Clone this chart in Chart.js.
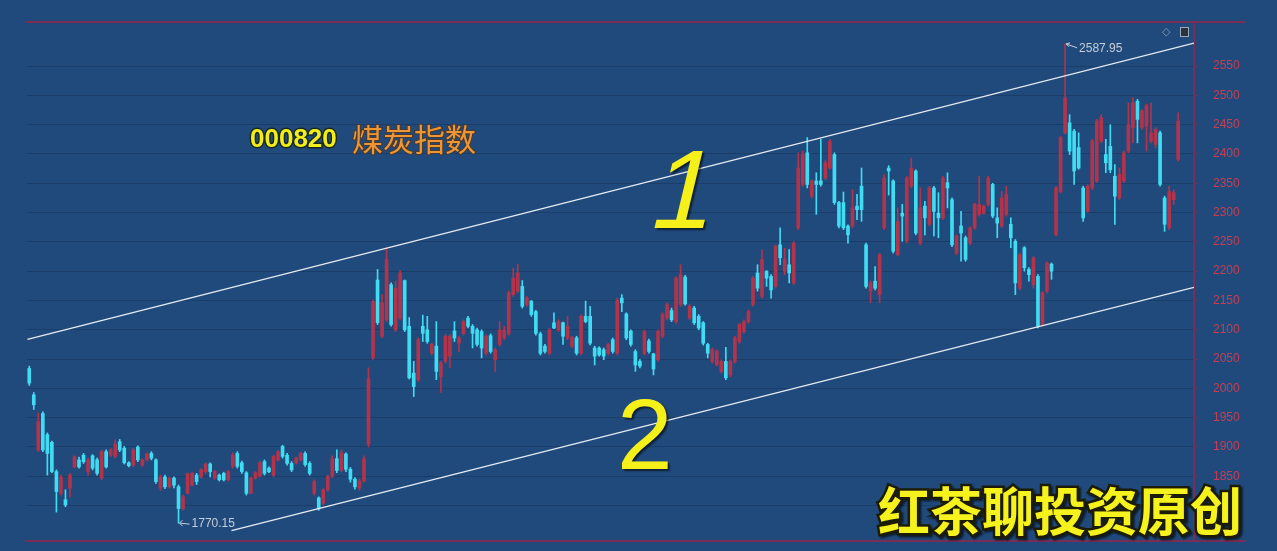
<!DOCTYPE html>
<html>
<head>
<meta charset="utf-8">
<script src="https://cdn.jsdelivr.net/npm/chart.js@4/dist/chart.umd.min.js"></script>
<style>
    html, body { margin: 0; padding: 0; background: #214a7c; }
    #wrap { width: 1277px; height: 551px; }
</style>
</head>
<body>
<div id="wrap"><canvas id="kline" width="1277" height="551"></canvas></div>
<script>
    // 000820 煤炭指数 - daily candles
    var openPrices = [
        2034,1989,1895,1957,1921,1908,1858,1821,1810,1830,
        1866,1878,1886,1858,1885,1878,1847,1892,1886,1884,
        1909,1898,1873,1869,1900,1869,1878,1889,1878,1830,
        1849,1832,1847,1832,1795,1821,1835,1852,1849,1858,
        1871,1847,1852,1855,1844,1867,1889,1873,1856,1821,
        1847,1850,1875,1864,1852,1878,1901,1886,1872,1873,
        1878,1889,1872,1821,1813,1804,
        1827,1850,1880,1860,1888,1862,1845,1830,1842,
        1905,2052,2185,2089,2117,
        2177,2100,2120,2184,2106,2026,2015,2106,2100,2060,
        2072,2020,2046,2055,2098,2077,2094,2120,2106,2100,
        2097,2060,2090,2049,2075,2086,2094,2160,2166,2174,
        2143,2149,2131,2093,2072,2060,2112,2100,2112,2086,
        2072,2086,2060,2123,2123,2069,2069,2066,
        2060,2083,2060,2154,2127,2098,2063,2046,2060,2081,
        2059,2049,2089,2120,2133,2114,2143,2190,2120,2137,
        2123,2112,2075,2046,2040,2029,2046,2023,2046,2080,
        2097,2114,2143,2197,2157,2200,2191,2174,2245,2200,
        2211,2180,2274,2348,2402,2328,2354,2354,2359,2376,
        2399,2317,2317,2277,2277,2311,2345,2245,2166,2183,
        2160,2274,2376,2354,
        2228,2299,2251,2345,2371,2248,2311,2280,2342,2299,
        2291,2351,2322,2231,2277,2257,2248,2274,2297,2299,
        2314,2348,2291,2277,2297,2280,2251,2171,2240,2203,
        2177,2191,2109,2166,2212,2262,2336,2436,2453,2439,
        2411,2342,2302,2342,2354,2422,2399,2413,2362,2325,
        2354,2405,2445,2490,2445,2448,2422,2416,2436,2325,
        2274,2322,2391
    ];
    var highPrices = [
        2038,1993,1958,1960,1924,1910,1861,1852,1827,1855,
        1885,1883,1889,1881,1887,1881,1895,1895,1897,1912,
        1913,1901,1875,1898,1902,1880,1890,1892,1880,1852,
        1852,1849,1849,1835,1818,1856,1857,1855,1863,1873,
        1873,1860,1854,1857,1860,1890,1892,1876,1858,1849,
        1858,1876,1878,1866,1886,1894,1903,1889,1875,1883,
        1891,1892,1875,1844,1815,1829,
        1852,1885,1895,1895,1890,1865,1848,1845,1885,
        2035,2151,2203,2160,2240,
        2180,2183,2201,2185,2121,2046,2086,2125,2123,2077,
        2114,2046,2092,2092,2114,2089,2117,2123,2109,2103,
        2100,2091,2093,2069,2114,2106,2166,2205,2212,2184,
        2157,2150,2133,2096,2075,2103,2129,2117,2113,2123,
        2089,2089,2126,2149,2140,2072,2071,2069,
        2077,2086,2154,2160,2129,2100,2066,2049,2100,2084,
        2060,2100,2129,2146,2137,2191,2211,2193,2143,2140,
        2126,2114,2077,2069,2066,2049,2070,2049,2089,2111,
        2117,2134,2191,2211,2237,2201,2194,2245,2274,2239,
        2237,2251,2402,2405,2428,2356,2368,2425,2389,2425,
        2402,2319,2335,2279,2339,2331,2376,2248,2183,2208,
        2231,2365,2380,2356,
        2308,2314,2362,2393,2373,2342,2319,2345,2345,2334,
        2362,2368,2325,2262,2302,2260,2276,2316,2362,2313,
        2362,2350,2308,2336,2345,2291,2254,2231,2242,2206,
        2225,2194,2165,2216,2214,2345,2430,2587.95,2467,2442,
        2436,2345,2348,2425,2459,2467,2425,2450,2382,2376,
        2405,2487,2496,2493,2476,2485,2487,2445,2439,2328,
        2345,2339,2470
    ];
    var lowPrices = [
        2005,1964,1892,1892,1852,1856,1789,1818,1798,1815,
        1864,1864,1872,1852,1861,1852,1844,1864,1884,1881,
        1892,1871,1866,1866,1875,1867,1876,1878,1838,1826,
        1829,1830,1830,1770.15,1792,1820,1833,1836,1847,1855,
        1849,1845,1842,1842,1842,1864,1864,1855,1818,1820,
        1845,1849,1852,1856,1849,1876,1881,1869,1858,1871,
        1876,1867,1852,1818,1792,1801,
        1824,1848,1856,1858,1858,1840,1828,1826,1840,
        1900,2049,2109,2086,2114,
        2106,2097,2117,2097,2016,1986,2012,2080,2077,2057,
        2015,1993,2043,2035,2080,2063,2091,2103,2069,2072,
        2052,2057,2060,2029,2072,2083,2091,2157,2163,2137,
        2140,2123,2091,2057,2060,2057,2102,2097,2075,2083,
        2069,2057,2057,2112,2074,2040,2055,2049,
        2057,2060,2057,2131,2083,2072,2029,2035,2057,2060,
        2023,2046,2086,2117,2114,2111,2140,2142,2117,2109,
        2100,2074,2052,2043,2038,2026,2015,2020,2043,2077,
        2094,2111,2140,2166,2154,2174,2154,2171,2211,2194,
        2180,2177,2271,2345,2342,2325,2297,2345,2356,2374,
        2314,2274,2271,2248,2274,2288,2285,2171,2146,2168,
        2146,2271,2330,2231,
        2226,2251,2248,2342,2262,2245,2262,2277,2260,2257,
        2288,2308,2242,2228,2217,2217,2245,2271,2294,2297,
        2311,2291,2257,2274,2294,2240,2160,2168,2200,2183,
        2171,2103,2106,2163,2186,2260,2334,2434,2399,2348,
        2374,2285,2300,2339,2351,2419,2368,2368,2280,2322,
        2351,2402,2419,2419,2442,2405,2419,2410,2345,2268,
        2271,2314,2388
    ];
    var closePrices = [
        2009,1972,1943,1895,1889,1858,1824,1849,1801,1852,
        1883,1866,1875,1878,1864,1855,1892,1866,1895,1905,
        1895,1873,1868,1895,1878,1878,1888,1881,1841,1849,
        1832,1847,1835,1795,1815,1854,1855,1841,1861,1871,
        1858,1858,1844,1844,1858,1886,1867,1858,1821,1847,
        1856,1873,1855,1858,1884,1892,1884,1872,1861,1881,
        1889,1870,1855,1841,1795,1827,
        1850,1880,1860,1890,1862,1845,1832,1842,1880,
        2017,2148,2112,2146,2220,
        2109,2171,2197,2100,2018,2003,2083,2094,2080,2075,
        2029,2043,2089,2089,2086,2086,2114,2106,2094,2075,
        2069,2089,2063,2066,2100,2100,2163,2188,2197,2140,
        2154,2126,2094,2060,2063,2100,2103,2114,2089,2106,
        2087,2060,2123,2114,2077,2055,2057,2055,
        2075,2063,2151,2146,2086,2075,2040,2038,2097,2063,
        2033,2097,2126,2143,2117,2188,2194,2144,2140,2112,
        2103,2077,2060,2066,2063,2046,2018,2046,2086,2109,
        2114,2131,2188,2171,2220,2188,2168,2243,2223,2220,
        2197,2248,2376,2400,2348,2354,2348,2348,2385,2422,
        2317,2277,2274,2262,2308,2305,2305,2174,2180,2171,
        2228,2359,2371,2234,
        2285,2294,2359,2376,2265,2308,2291,2342,2302,2291,
        2359,2342,2245,2260,2265,2220,2274,2314,2314,2311,
        2359,2294,2282,2325,2331,2257,2180,2228,2206,2194,
        2223,2106,2163,2214,2200,2342,2428,2496,2405,2371,
        2376,2291,2345,2422,2456,2462,2385,2373,2328,2365,
        2402,2450,2487,2459,2473,2482,2436,2442,2348,2280,
        2336,2334,2456
    ];

    // Channel lines (index, price) at both ends
    var channelUpper = [{x: -0.4, y: 2083.6}, {x: 257.5, y: 2589.3}];
    var channelLower = [{x: 44.7, y: 1757.3}, {x: 257.5, y: 2172.4}];

    var yTickValues = [1800, 1850, 1900, 1950, 2000, 2050, 2100, 2150, 2200,
                       2250, 2300, 2350, 2400, 2450, 2500, 2550];

    var BG = '#214a7c';
    var UP = '#b3334b';
    var DOWN = '#40dcf2';
    var FRAME = '#7a2e55';
    var SLOTS = 258;

    var labels = [];
    for (var i = 0; i < SLOTS; i++) {
        labels.push(String(i));
    }

    var wickData = [];
    var bodyData = [];
    var colors = [];
    for (var j = 0; j < openPrices.length; j++) {
        wickData.push([lowPrices[j], highPrices[j]]);
        bodyData.push([openPrices[j], closePrices[j]]);
        colors.push(closePrices[j] >= openPrices[j] ? UP : DOWN);
    }

    function extremeIndex(arr, wantMax) {
        var best = 0;
        for (var k = 1; k < arr.length; k++) {
            if (wantMax ? arr[k] > arr[best] : arr[k] < arr[best]) {
                best = k;
            }
        }
        return best;
    }

    var decorPlugin = {
        id: 'decor',
        beforeDraw: function(chart) {
            var ctx = chart.ctx;
            ctx.save();
            ctx.fillStyle = BG;
            ctx.fillRect(0, 0, chart.width, chart.height);
            ctx.restore();
        },
        afterDraw: function(chart) {
            var ctx = chart.ctx;
            var area = chart.chartArea;
            var xs = chart.scales.x;
            var ys = chart.scales.y;
            ctx.save();

            // cadre haut / bas
            ctx.strokeStyle = FRAME;
            ctx.lineWidth = 2;
            ctx.beginPath();
            ctx.moveTo(25, area.top);
            ctx.lineTo(1246, area.top);
            ctx.moveTo(25, area.bottom);
            ctx.lineTo(1246, area.bottom);
            ctx.stroke();

            // max / min markers
            ctx.strokeStyle = '#c5cdd8';
            ctx.fillStyle = '#c5cdd8';
            ctx.lineWidth = 1;
            ctx.font = '12px "Liberation Sans", Arial';
            ctx.textBaseline = 'middle';
            ctx.textAlign = 'left';

            var hi = extremeIndex(highPrices, true);
            var hx = xs.getPixelForValue(hi);
            var hy = ys.getPixelForValue(highPrices[hi]);
            ctx.beginPath();
            ctx.moveTo(hx + 1, hy);
            ctx.lineTo(hx + 12, hy + 4);
            ctx.moveTo(hx + 1, hy);
            ctx.lineTo(hx + 5, hy - 1);
            ctx.moveTo(hx + 1, hy);
            ctx.lineTo(hx + 4, hy + 3);
            ctx.stroke();
            ctx.fillText(highPrices[hi].toFixed(2), hx + 14, hy + 5);

            var lo = extremeIndex(lowPrices, false);
            var lx = xs.getPixelForValue(lo);
            var ly = ys.getPixelForValue(lowPrices[lo]);
            ctx.beginPath();
            ctx.moveTo(lx + 1, ly);
            ctx.lineTo(lx + 11, ly + 1);
            ctx.moveTo(lx + 1, ly);
            ctx.lineTo(lx + 4, ly - 3);
            ctx.moveTo(lx + 1, ly);
            ctx.lineTo(lx + 4, ly + 3);
            ctx.stroke();
            ctx.fillText(lowPrices[lo].toFixed(2), lx + 13, ly + 1);

            // icônes en haut à droite
            ctx.fillStyle = '#8a9ab0';
            ctx.font = '11px "DejaVu Sans"';
            ctx.fillText('\u25C7', 1162, 32);
            ctx.fillStyle = '#2a3240';
            ctx.fillRect(1180, 27, 9, 10);
            ctx.strokeStyle = '#9aa8b8';
            ctx.strokeRect(1180.5, 27.5, 8, 9);

            // titre
            ctx.textBaseline = 'alphabetic';
            ctx.font = 'bold 26px "Liberation Sans", Arial';
            ctx.lineWidth = 3;
            ctx.strokeStyle = '#1a2a20';
            ctx.strokeText('000820', 250, 147);
            ctx.fillStyle = '#f2ee1e';
            ctx.fillText('000820', 250, 147);
            ctx.font = '31px "Noto Sans CJK SC"';
            ctx.lineWidth = 2;
            ctx.strokeStyle = '#4a3a30';
            ctx.strokeText('煤炭指数', 352, 151);
            ctx.fillStyle = '#ee9634';
            ctx.fillText('煤炭指数', 352, 151);

            // chiffres manuscrits
            ctx.shadowColor = 'rgba(0,0,0,0.6)';
            ctx.shadowOffsetX = 2;
            ctx.shadowOffsetY = 2;
            ctx.shadowBlur = 2;
            ctx.fillStyle = '#f6f01a';
            ctx.font = '112px "Liberation Sans Narrow", "Liberation Sans", Arial';
            ctx.save();
            ctx.translate(646, 228);
            ctx.transform(1, 0, -0.24, 1, 0, 0);
            ctx.fillText('1', 0, 0);
            ctx.restore();
            ctx.font = '100px "Liberation Sans", Arial';
            ctx.fillText('2', 617, 469);

            // filigrane
            ctx.font = 'bold 52px "Noto Sans CJK SC"';
            ctx.lineWidth = 5;
            ctx.strokeStyle = '#1c1c06';
            ctx.strokeText('红茶聊投资原创', 878, 531);
            ctx.shadowColor = 'rgba(0,0,0,0)';
            ctx.fillStyle = '#f6f21e';
            ctx.fillText('红茶聊投资原创', 878, 531);

            ctx.restore();
        }
    };

    Chart.defaults.font.family = '"Liberation Sans", Arial, sans-serif';

    var chart = new Chart(document.getElementById('kline'), {
        type: 'bar',
        data: {
            labels: labels,
            datasets: [{
                label: 'wick',
                data: wickData,
                backgroundColor: colors,
                barThickness: 1,
                grouped: false,
                order: 3
            }, {
                label: 'body',
                data: bodyData,
                backgroundColor: colors,
                barThickness: 3,
                minBarLength: 1,
                grouped: false,
                order: 2
            }, {
                type: 'line',
                label: 'upper',
                data: channelUpper,
                xAxisID: 'xl',
                borderColor: '#e6ecf4',
                borderWidth: 1.3,
                pointRadius: 0,
                order: 1
            }, {
                type: 'line',
                label: 'lower',
                data: channelLower,
                xAxisID: 'xl',
                borderColor: '#e6ecf4',
                borderWidth: 1.3,
                pointRadius: 0,
                order: 1
            }]
        },
        options: {
            responsive: false,
            animation: false,
            layout: {
                padding: {left: 27, top: 22, right: 0, bottom: 10}
            },
            plugins: {
                legend: {display: false},
                tooltip: {enabled: false}
            },
            scales: {
                x: {
                    type: 'category',
                    offset: true,
                    display: false
                },
                xl: {
                    type: 'linear',
                    min: -0.5,
                    max: SLOTS - 0.5,
                    offset: false,
                    grid: {offset: false},
                    display: false
                },
                y: {
                    position: 'right',
                    min: 1739.6,
                    max: 2625.2,
                    afterBuildTicks: function(scale) {
                        scale.ticks = yTickValues.map(function(v) { return {value: v}; });
                    },
                    afterFit: function(scale) {
                        scale.width = 83;
                        scale.paddingTop = 0;
                        scale.paddingBottom = 0;
                    },
                    ticks: {
                        color: '#c63e52',
                        font: {size: 12},
                        padding: 15,
                        callback: function(value) {
                            return String(value);
                        }
                    },
                    grid: {
                        color: 'rgba(14,34,66,0.3)',
                        tickColor: FRAME,
                        tickLength: 4
                    },
                    border: {
                        color: FRAME,
                        width: 2
                    }
                }
            }
        },
        plugins: [decorPlugin]
    });
</script>
</body>
</html>
